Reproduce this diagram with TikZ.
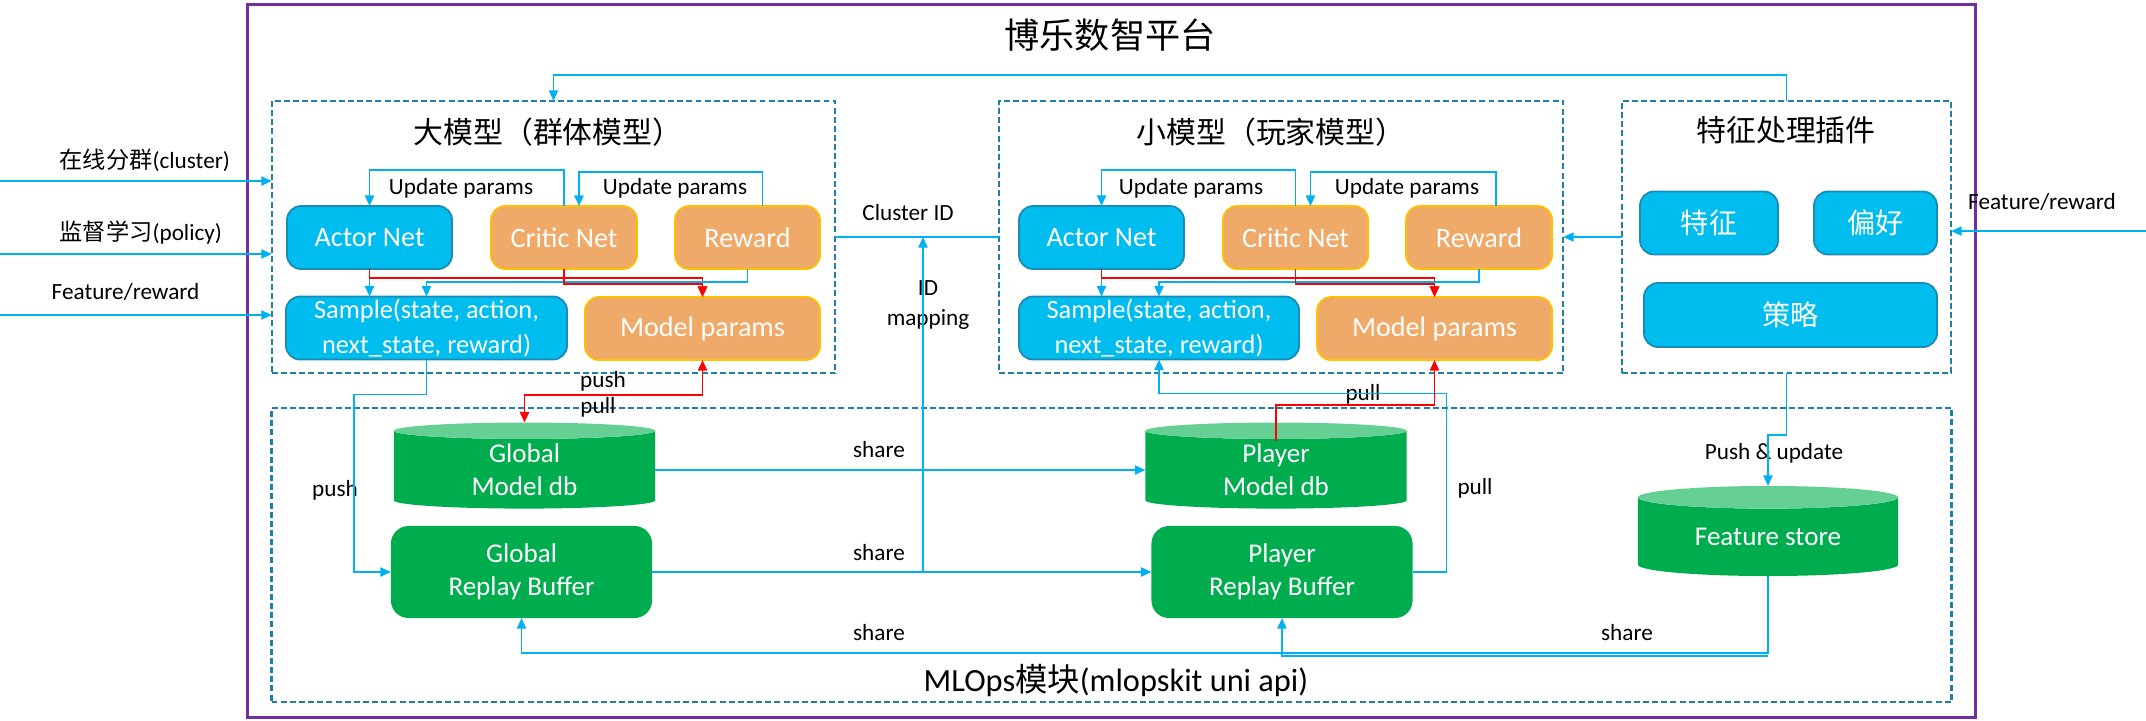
\documentclass[tikz,border=0pt]{standalone}
\usepackage{fontspec}
\setmainfont{Carlito}
\newfontfamily\cjk{Noto Sans CJK SC}
\usepackage{tikz}
\usetikzlibrary{calc,arrows.meta,shapes.geometric}
\definecolor{netblue}{HTML}{00BDF0}
\definecolor{netedge}{HTML}{1A8CB4}
\definecolor{critic}{HTML}{EFA968}
\definecolor{criticedge}{HTML}{FFC000}
\definecolor{store}{HTML}{00AD4E}
\definecolor{storetop}{HTML}{66CF94}
\definecolor{groupline}{HTML}{1F7FA6}
\definecolor{frame}{HTML}{7030A0}
\definecolor{wireblue}{HTML}{00B0F0}
\definecolor{hot}{HTML}{FF0000}
\tikzset{
  >={Triangle[length=3pt,width=2.6pt]},
  group/.style={draw=groupline, line width=0.6pt, dash pattern=on 1.7pt off 0.9pt, inner sep=0pt, outer sep=0pt},
  netbox/.style={draw=netedge, fill=netblue, line width=0.5pt, rounded corners=4pt, text=white,
    font=\fontsize{8}{10}\selectfont, align=center, inner sep=0pt, outer sep=0pt, minimum height=6.3mm},
  parbox/.style={netbox, draw=criticedge, fill=critic},
  bufbox/.style={fill=store, rounded corners=5pt, text=white, font=\fontsize{7.7}{9.4}\selectfont,
    align=center, inner sep=0pt, outer sep=0pt, minimum width=26.1mm, minimum height=9.2mm},
  dbcyl/.style={cylinder, shape border rotate=90, aspect=0.155, cylinder uses custom fill,
    cylinder body fill=store, cylinder end fill=storetop, text=white, font=\fontsize{7.7}{9.4}\selectfont,
    align=center, inner sep=0pt, outer sep=0pt, minimum width=26.1mm, minimum height=8.6mm},
  wire/.style={draw=wireblue, line width=0.5pt, ->},
  hotwire/.style={draw=hot, line width=0.5pt, ->},
  lab/.style={font=\fontsize{6.6}{8.5}\selectfont, inner sep=0pt, align=center},
  head/.style={font=\cjk\fontsize{8.5}{10}\selectfont, inner sep=0pt},
}

\begin{document}
\begin{tikzpicture}[x=0.01cm, y=-0.01cm]
  \useasboundingbox (0,0) rectangle (2146,720);

  % frame and groups
  \node[draw=frame, line width=0.8pt, inner sep=0pt, minimum width=172.7mm, minimum height=71.2mm] (platform) at (1111.5,361) {};
  \node[font=\cjk\fontsize{10}{12}\selectfont] (ptitle) at (1110,35) {博乐数智平台};
  \node[group, minimum width=56.3mm, minimum height=27.2mm] (bigbox) at (553.5,237) {};
  \node[group, minimum width=56.4mm, minimum height=27.2mm] (smallbox) at (1281,237) {};
  \node[group, minimum width=32.9mm, minimum height=27.2mm] (featbox) at (1786.5,237) {};
  \node[group, minimum width=167.9mm, minimum height=29.4mm] (opsbox) at (1111.5,555) {};

  \node[head] (bigtitle) at (548,132) {大模型（群体模型）};
  \node[head] (smalltitle) at (1271,132) {小模型（玩家模型）};
  \node[head] (feattitle) at (1786,130) {特征处理插件};
  \node[font=\fontsize{9.2}{11}\selectfont] (opstitle) at (1116,680) {MLOps{\cjk 模块}(mlopskit uni api)};

  % big model
  \node[netbox, minimum width=16.5mm] (actorL) at (369.5,237.5) {Actor Net};
  \node[parbox, minimum width=14.6mm] (criticL) at (564,237.5) {Critic Net};
  \node[parbox, minimum width=14.5mm] (rewardL) at (747.5,237.5) {Reward};
  \node[netbox, minimum width=28.1mm, font=\fontsize{7.5}{10}\selectfont] (sampleL) at (426.5,328) {Sample(state, action,\\next\_state, reward)};
  \node[parbox, minimum width=23.5mm] (paramsL) at (702.5,328.5) {Model params};

  % small model
  \node[netbox, minimum width=16.5mm] (actorM) at (1101.5,237.5) {Actor Net};
  \node[parbox, minimum width=14.5mm] (criticM) at (1295.5,237.5) {Critic Net};
  \node[parbox, minimum width=14.6mm] (rewardM) at (1479,237.5) {Reward};
  \node[netbox, minimum width=28mm, font=\fontsize{7.5}{10}\selectfont] (sampleM) at (1159,328) {Sample(state, action,\\next\_state, reward)};
  \node[parbox, minimum width=23.5mm] (paramsM) at (1434.5,328.5) {Model params};

  % feature plugin
  \node[netbox, minimum width=13.8mm, font=\cjk\fontsize{8}{10}\selectfont] (feat) at (1709,223) {特征};
  \node[netbox, minimum width=12.3mm, font=\cjk\fontsize{8}{10}\selectfont] (pref) at (1875.5,223) {偏好};
  \node[netbox, minimum width=29.3mm, minimum height=6.4mm, font=\cjk\fontsize{8}{10}\selectfont] (policy) at (1790.5,315) {策略};

  % stores
  \node[dbcyl] (gmdb) at (524.5,470) {Global\\Model db};
  \node[dbcyl] (pmdb) at (1276,470) {Player\\Model db};
  \node[dbcyl, minimum width=26mm, minimum height=9mm] (fstore) at (1768,537) {Feature store};
  \node[bufbox] (grb) at (521.5,572) {Global\\Replay Buffer};
  \node[bufbox] (prb) at (1282,572) {Player\\Replay Buffer};

  % labels
  \node[lab] (updL1) at (461,188) {Update params};
  \node[lab] (updL2) at (675,188) {Update params};
  \node[lab] (updM1) at (1191,188) {Update params};
  \node[lab] (updM2) at (1407,188) {Update params};
  \node[lab] (clusterid) at (908,213) {Cluster ID};
  \node[lab] (idmap) at (928,305) {ID\\mapping};
  \node[lab] (pushL) at (603,381) {push};
  \node[lab] (pullL) at (598,407) {pull};
  \node[lab] (pushG) at (335,490) {push};
  \node[lab] (shareDb) at (879,450) {share};
  \node[lab] (shareBuf) at (879,553) {share};
  \node[lab] (shareG) at (879,633) {share};
  \node[lab] (shareF) at (1627,633) {share};
  \node[lab] (pullM) at (1363,394) {pull};
  \node[lab] (pullP) at (1475,488) {pull};
  \node[lab] (pushupd) at (1774,453) {Push \& update};
  \node[lab, anchor=west] (clusterlab) at (59,160) {{\cjk 在线分群}(cluster)};
  \node[lab, anchor=west] (policylab) at (59,232) {{\cjk 监督学习}(policy)};
  \node[lab, anchor=west] (featlabL) at (51,292) {Feature/reward};
  \node[lab] (featlabR) at (2042,202) {Feature/reward};

  % inputs
  \coordinate (inCluster) at (0,181);
  \coordinate (inPolicy) at (0,254);
  \coordinate (inFeat) at (0,315);
  \coordinate (inRight) at (2146,231);
  \coordinate (idfoot) at (923,572);
  \draw[wire] (inCluster) -- (inCluster -| bigbox.west);
  \draw[wire] (inPolicy) -- (inPolicy -| bigbox.west);
  \draw[wire] (inFeat) -- (inFeat -| bigbox.west);
  \draw[wire] (inRight) -- (inRight -| featbox.east);
  \draw[wire] (featbox.west) -- (smallbox.east);
  \draw[wire] (featbox.north) -- ++(0,-26) -| (bigbox.north);
  \draw[wire, -] (bigbox.east) -- (smallbox.west);
  \draw[wire] (idfoot) -- (idfoot |- bigbox.east);

  % update loops
  \draw[wire] (criticL.north) -- ++(0,-36) -| (actorL.north);
  \draw[wire] ($(rewardL.north)+(15,0)$) -- ++(0,-34) -| ($(criticL.north)+(15,0)$);
  \draw[wire] (criticM.north) -- ++(0,-36) -| (actorM.north);
  \draw[wire] ($(rewardM.north)+(17,0)$) -- ++(0,-34) -| ($(criticM.north)+(15,0)$);

  % nets to sample / params
  \draw[wire] (actorL.south) -- (actorL.south |- sampleL.north);
  \draw[hotwire] (actorL.south) -- ++(0,9) -| (paramsL.north);
  \draw[wire] (rewardL.south) -- ++(0,13) -| (sampleL.north);
  \draw[hotwire] (criticL.south) -- ++(0,15) -| (paramsL.north);
  \draw[wire] (actorM.south) -- (actorM.south |- sampleM.north);
  \draw[hotwire] (actorM.south) -- ++(0,9) -| (paramsM.north);
  \draw[wire] (rewardM.south) -- ++(0,13) -| (sampleM.north);
  \draw[hotwire] (criticM.south) -- ++(0,15) -| (paramsM.north);

  % store links
  \draw[hotwire, <->] (paramsL.south) -- ++(0,35) -| (gmdb.north);
  \draw[wire] (sampleL.south) -- ++(0,35) -| ($(grb.west)+(-37,0)$) -- (grb.west);
  \draw[wire] (gmdb.east) -- (pmdb.west);
  \draw[wire] (grb.east) -- (prb.west);
  \draw[wire] (prb.east) -- ++(34,0) |- ($(sampleM.south)+(0,34)$) -- (sampleM.south);
  \draw[hotwire] ($(pmdb.north)+(0,18)$) |- ($(paramsM.south)+(0,45)$) -- (paramsM.south);
  \draw[wire] (featbox.south) -- ++(0,62) -| (fstore.north);
  \draw[wire] (fstore.south) |- ($(grb.south)+(0,35)$) -- (grb.south);
  \draw[wire] ($(fstore.south)+(0,80)$) -| (prb.south);

\end{tikzpicture}
\end{document}
